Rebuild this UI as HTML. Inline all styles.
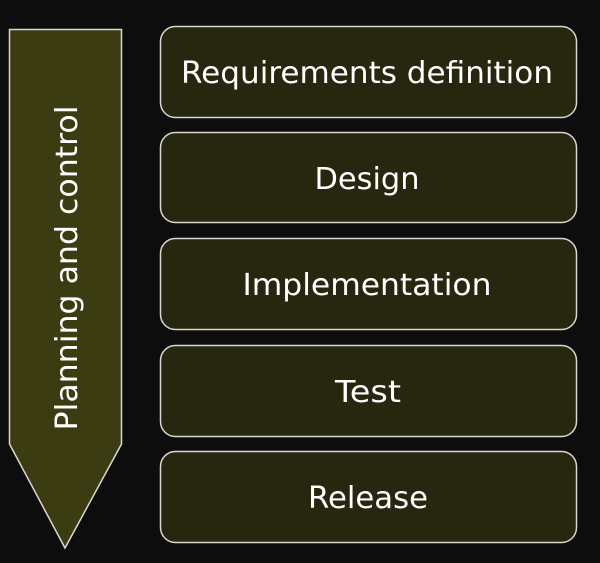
<!DOCTYPE html>
<html><head><style>
body{margin:0;background:#0d0d0d;}
svg text{font-family:"DejaVu Sans","Liberation Sans",sans-serif;fill:#fff;font-size:30px;}
</style></head><body>
<svg width="600" height="558" xmlns="http://www.w3.org/2000/svg">
<rect width="600" height="558" fill="#0d0d0d"/>
<polygon points="9.5,29.5 121.5,29.5 121.5,444 65,548 9.5,444" fill="#3c3c12" stroke="#d8d8d0" stroke-width="1.5"/>
<text transform="translate(77,268) rotate(-90)" text-anchor="middle" textLength="325" lengthAdjust="spacingAndGlyphs">Planning and control</text>
<g fill="#27260f" stroke="#d8d8d0" stroke-width="1.5">
<rect x="160.5" y="26.5" width="416" height="91" rx="15"/>
<rect x="160.5" y="132.5" width="416" height="90" rx="15"/>
<rect x="160.5" y="238.5" width="416" height="91" rx="15"/>
<rect x="160.5" y="345.5" width="416" height="91" rx="15"/>
<rect x="160.5" y="451.5" width="416" height="91" rx="15"/>
</g>
<g text-anchor="middle">
<text x="367" y="83" textLength="372" lengthAdjust="spacingAndGlyphs">Requirements definition</text>
<text x="367" y="189" textLength="105" lengthAdjust="spacingAndGlyphs">Design</text>
<text x="367" y="295" textLength="249" lengthAdjust="spacingAndGlyphs">Implementation</text>
<text x="368" y="402" textLength="66" lengthAdjust="spacingAndGlyphs">Test</text>
<text x="368" y="508" textLength="120" lengthAdjust="spacingAndGlyphs">Release</text>
</g>
</svg>
</body></html>
